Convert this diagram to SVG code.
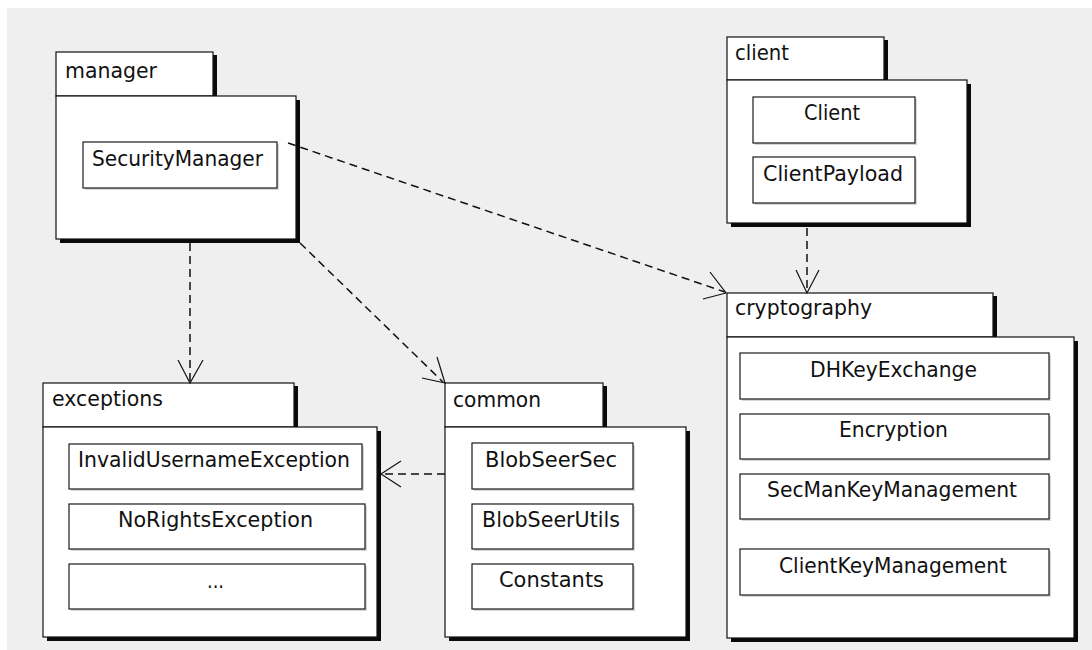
<svg xmlns="http://www.w3.org/2000/svg" width="1092" height="650" viewBox="0 0 1092 650">
  <style>
    .tab, .body { fill: #ffffff; stroke: #111111; stroke-width: 1.2; }
    .shadow { fill: #0a0a0a; }
    .cls { fill: #ffffff; stroke: #1a1a1a; stroke-width: 1.2; }
    .clsShadow { fill: #d6d6d6; }
    text { font-family: "DejaVu Sans", "Liberation Sans", sans-serif; font-size: 22px; fill: #111111; }
    .dep { fill: none; stroke: #111111; stroke-width: 1.5; stroke-dasharray: 8 5; }
    .head { fill: none; stroke: #111111; stroke-width: 1.2; }
  </style>

  <rect x="0" y="0" width="1092" height="650" fill="#ffffff"/>
  <rect x="7" y="8" width="1085" height="642" fill="#efefef"/>

  <!-- package: manager -->
  <g id="pkg-manager">
    <rect class="shadow" x="60" y="55" width="157" height="44"/>
    <rect class="tab" x="56" y="52" width="157" height="44"/>
    <rect class="shadow" x="60" y="100" width="240" height="143"/>
    <rect class="body" x="56" y="96" width="240" height="143"/>
    <text x="65" y="78" textLength="92" lengthAdjust="spacingAndGlyphs">manager</text>
    <g id="cls-SecurityManager">
      <rect class="clsShadow" x="85" y="144" width="194" height="46"/>
      <rect class="cls" x="83" y="142" width="194" height="46"/>
      <text x="92" y="166" textLength="171" lengthAdjust="spacingAndGlyphs">SecurityManager</text>
    </g>
  </g>

  <!-- package: client -->
  <g id="pkg-client">
    <rect class="shadow" x="731" y="40" width="157" height="43"/>
    <rect class="tab" x="727" y="37" width="157" height="43"/>
    <rect class="shadow" x="731" y="84" width="240" height="143"/>
    <rect class="body" x="727" y="80" width="240" height="143"/>
    <text x="735" y="60" textLength="54" lengthAdjust="spacingAndGlyphs">client</text>
    <g id="cls-Client">
      <rect class="clsShadow" x="755" y="99" width="162" height="46"/>
      <rect class="cls" x="753" y="97" width="162" height="46"/>
      <text x="804" y="120" textLength="56" lengthAdjust="spacingAndGlyphs">Client</text>
    </g>
    <g id="cls-ClientPayload">
      <rect class="clsShadow" x="755" y="159" width="162" height="46"/>
      <rect class="cls" x="753" y="157" width="162" height="46"/>
      <text x="763" y="181" textLength="140" lengthAdjust="spacingAndGlyphs">ClientPayload</text>
    </g>
  </g>

  <!-- package: cryptography -->
  <g id="pkg-cryptography">
    <rect class="shadow" x="731" y="296" width="266" height="44"/>
    <rect class="tab" x="727" y="293" width="266" height="44"/>
    <rect class="shadow" x="731" y="341" width="347" height="301"/>
    <rect class="body" x="727" y="337" width="347" height="301"/>
    <text x="735" y="315" textLength="137" lengthAdjust="spacingAndGlyphs">cryptography</text>
    <g id="cls-DHKeyExchange">
      <rect class="clsShadow" x="742" y="355" width="309" height="46"/>
      <rect class="cls" x="740" y="353" width="309" height="46"/>
      <text x="810" y="377" textLength="167" lengthAdjust="spacingAndGlyphs">DHKeyExchange</text>
    </g>
    <g id="cls-Encryption">
      <rect class="clsShadow" x="742" y="416" width="309" height="45"/>
      <rect class="cls" x="740" y="414" width="309" height="45"/>
      <text x="839" y="437" textLength="109" lengthAdjust="spacingAndGlyphs">Encryption</text>
    </g>
    <g id="cls-SecManKeyManagement">
      <rect class="clsShadow" x="742" y="476" width="309" height="45"/>
      <rect class="cls" x="740" y="474" width="309" height="45"/>
      <text x="767" y="497" textLength="250" lengthAdjust="spacingAndGlyphs">SecManKeyManagement</text>
    </g>
    <g id="cls-ClientKeyManagement">
      <rect class="clsShadow" x="742" y="551" width="309" height="46"/>
      <rect class="cls" x="740" y="549" width="309" height="46"/>
      <text x="779" y="573" textLength="228" lengthAdjust="spacingAndGlyphs">ClientKeyManagement</text>
    </g>
  </g>

  <!-- package: exceptions -->
  <g id="pkg-exceptions">
    <rect class="shadow" x="47" y="386" width="251" height="44"/>
    <rect class="tab" x="43" y="383" width="251" height="44"/>
    <rect class="shadow" x="47" y="431" width="334" height="210"/>
    <rect class="body" x="43" y="427" width="334" height="210"/>
    <text x="52" y="406" textLength="111" lengthAdjust="spacingAndGlyphs">exceptions</text>
    <g id="cls-InvalidUsernameException">
      <rect class="clsShadow" x="71" y="446" width="293" height="45"/>
      <rect class="cls" x="69" y="444" width="293" height="45"/>
      <text x="78" y="467" textLength="272" lengthAdjust="spacingAndGlyphs">InvalidUsernameException</text>
    </g>
    <g id="cls-NoRightsException">
      <rect class="clsShadow" x="71" y="506" width="296" height="45"/>
      <rect class="cls" x="69" y="504" width="296" height="45"/>
      <text x="118" y="527" textLength="195" lengthAdjust="spacingAndGlyphs">NoRightsException</text>
    </g>
    <g id="cls-more">
      <rect class="clsShadow" x="71" y="566" width="296" height="45"/>
      <rect class="cls" x="69" y="564" width="296" height="45"/>
      <text x="207" y="588" textLength="17" lengthAdjust="spacingAndGlyphs">...</text>
    </g>
  </g>

  <!-- package: common -->
  <g id="pkg-common">
    <rect class="shadow" x="449" y="386" width="158" height="44"/>
    <rect class="tab" x="445" y="383" width="158" height="44"/>
    <rect class="shadow" x="449" y="431" width="241" height="210"/>
    <rect class="body" x="445" y="427" width="241" height="210"/>
    <text x="453" y="407" textLength="88" lengthAdjust="spacingAndGlyphs">common</text>
    <g id="cls-BlobSeerSec">
      <rect class="clsShadow" x="474" y="445" width="161" height="46"/>
      <rect class="cls" x="472" y="443" width="161" height="46"/>
      <text x="485" y="467" textLength="132" lengthAdjust="spacingAndGlyphs">BlobSeerSec</text>
    </g>
    <g id="cls-BlobSeerUtils">
      <rect class="clsShadow" x="474" y="506" width="161" height="45"/>
      <rect class="cls" x="472" y="504" width="161" height="45"/>
      <text x="482" y="527" textLength="138" lengthAdjust="spacingAndGlyphs">BlobSeerUtils</text>
    </g>
    <g id="cls-Constants">
      <rect class="clsShadow" x="474" y="566" width="161" height="45"/>
      <rect class="cls" x="472" y="564" width="161" height="45"/>
      <text x="499" y="587" textLength="105" lengthAdjust="spacingAndGlyphs">Constants</text>
    </g>
  </g>

  <!-- dependency connectors (dashed, open arrowheads) -->
  <g id="connectors">
    <!-- manager -> cryptography -->
    <path class="dep" d="M288,143 L725,292"/>
    <path class="head" d="M710,272 L726,293 L703,299"/>
    <!-- manager -> exceptions -->
    <path class="dep" d="M190,243 L190,382"/>
    <path class="head" d="M178,360 L190,383 L203,360"/>
    <!-- manager -> common -->
    <path class="dep" d="M300,243 L443,382"/>
    <path class="head" d="M437,357 L445,383 L422,378"/>
    <!-- client -> cryptography -->
    <path class="dep" d="M807,228 L807,292"/>
    <path class="head" d="M796,270 L807,293 L819,270"/>
    <!-- common -> exceptions -->
    <path class="dep" d="M445,474 L382,474"/>
    <path class="head" d="M401,461 L381,474 L401,487"/>
  </g>
</svg>
